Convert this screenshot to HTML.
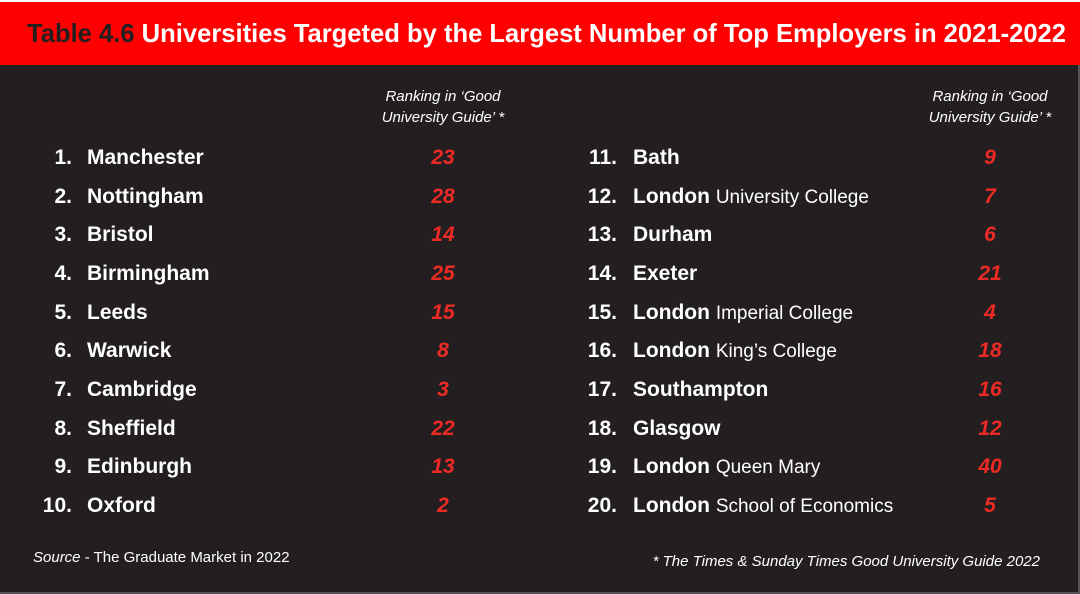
<!DOCTYPE html>
<html><head><style>
html,body{margin:0;padding:0;background:#231f20;}
svg{display:block}
</style></head><body>
<svg width="1080" height="594" xmlns="http://www.w3.org/2000/svg" font-family="Liberation Sans, sans-serif">
<rect x="0" y="0" width="1080" height="594" fill="#231f20"/>
<rect x="0" y="0" width="1080" height="2" fill="#fff"/>
<rect x="0" y="2" width="1080" height="63" fill="#fe0000"/>
<rect x="0" y="592" width="1080" height="2" fill="#555"/>
<rect x="1078" y="65" width="2" height="529" fill="#555"/>
<text x="27" y="42" font-size="26" font-weight="bold" textLength="1039" lengthAdjust="spacingAndGlyphs"><tspan fill="#231f20">Table 4.6 </tspan><tspan fill="#fff"> Universities Targeted by the Largest Number of Top Employers in 2021-2022</tspan></text>
<g fill="#fff" font-style="italic" font-size="15" text-anchor="middle">
<text x="443" y="101">Ranking in ‘Good</text><text x="443" y="122">University Guide’ *</text>
<text x="990" y="101">Ranking in ‘Good</text><text x="990" y="122">University Guide’ *</text>
</g>
<g fill="#fff" font-size="21" font-weight="bold">
<g text-anchor="end">
<text x="72" y="164">1.</text><text x="72" y="203">2.</text><text x="72" y="241">3.</text><text x="72" y="280">4.</text><text x="72" y="319">5.</text><text x="72" y="357">6.</text><text x="72" y="396">7.</text><text x="72" y="435">8.</text><text x="72" y="473">9.</text><text x="72" y="512">10.</text>
<text x="617" y="164">11.</text><text x="617" y="203">12.</text><text x="617" y="241">13.</text><text x="617" y="280">14.</text><text x="617" y="319">15.</text><text x="617" y="357">16.</text><text x="617" y="396">17.</text><text x="617" y="435">18.</text><text x="617" y="473">19.</text><text x="617" y="512">20.</text>
</g>
<text x="87" y="164">Manchester</text><text x="87" y="203">Nottingham</text><text x="87" y="241">Bristol</text><text x="87" y="280">Birmingham</text><text x="87" y="319">Leeds</text><text x="87" y="357">Warwick</text><text x="87" y="396">Cambridge</text><text x="87" y="435">Sheffield</text><text x="87" y="473">Edinburgh</text><text x="87" y="512">Oxford</text>
<text x="633" y="164">Bath</text>
<text x="633" y="203">London <tspan font-weight="normal" font-size="19">University College</tspan></text>
<text x="633" y="241">Durham</text><text x="633" y="280">Exeter</text>
<text x="633" y="319">London <tspan font-weight="normal" font-size="19">Imperial College</tspan></text>
<text x="633" y="357">London <tspan font-weight="normal" font-size="19">King’s College</tspan></text>
<text x="633" y="396">Southampton</text><text x="633" y="435">Glasgow</text>
<text x="633" y="473">London <tspan font-weight="normal" font-size="19">Queen Mary</tspan></text>
<text x="633" y="512">London <tspan font-weight="normal" font-size="19">School of Economics</tspan></text>
</g>
<g fill="#ee2a24" font-size="21" font-weight="bold" font-style="italic" text-anchor="middle">
<text x="443" y="164">23</text><text x="443" y="203">28</text><text x="443" y="241">14</text><text x="443" y="280">25</text><text x="443" y="319">15</text><text x="443" y="357">8</text><text x="443" y="396">3</text><text x="443" y="435">22</text><text x="443" y="473">13</text><text x="443" y="512">2</text>
<text x="990" y="164">9</text><text x="990" y="203">7</text><text x="990" y="241">6</text><text x="990" y="280">21</text><text x="990" y="319">4</text><text x="990" y="357">18</text><text x="990" y="396">16</text><text x="990" y="435">12</text><text x="990" y="473">40</text><text x="990" y="512">5</text>
</g>
<text x="33" y="562" fill="#fff" font-size="15"><tspan font-style="italic">Source</tspan> - The Graduate Market in 2022</text>
<text x="1040" y="566" fill="#fff" font-size="15" font-style="italic" text-anchor="end">* The Times &amp; Sunday Times Good University Guide 2022</text>
</svg>
</body></html>
